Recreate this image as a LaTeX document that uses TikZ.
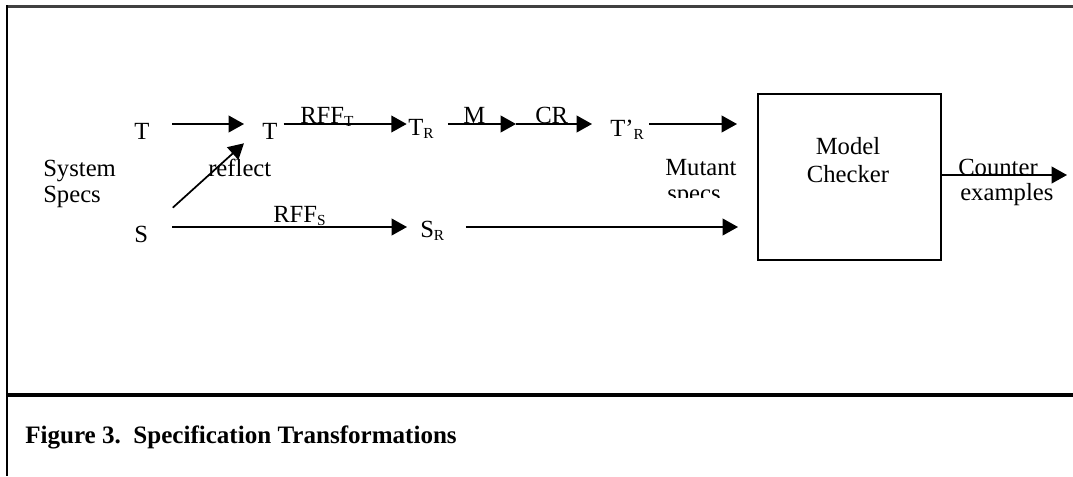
\documentclass[tikz,border=0pt]{standalone}
\usepackage{fontspec}
\setmainfont{Liberation Serif}
\usetikzlibrary{arrows.meta}

\newcommand{\lowidx}[1]{\raisebox{-0.35ex}{\fontsize{11.5}{11.5}\selectfont #1}}

\begin{document}
\begin{tikzpicture}[x=0.75pt,y=-0.75pt,
  lbl/.style={inner sep=0pt,anchor=base west,font=\fontsize{18.5}{21}\selectfont},
  arr/.style={line width=1.3pt,-{Triangle[length=11.5pt,width=12.5pt]}}]
\useasboundingbox (0,0) rectangle (1073,476);
\draw[line width=2.2pt,black!75] (6,6.5) -- (1073,6.5);
\draw[line width=2pt] (7,5) -- (7,476);
\draw[line width=3pt] (7,394.5) -- (1073,394.5);

\coordinate (toprow) at (0,124);
\coordinate (botrow) at (0,227);
\coordinate (mid) at (516,124);
\coordinate (out) at (1067,175);

\node[lbl] (tin) at (134,139) {T};
\node[lbl] (tref) at (262,139) {T};
\node[lbl] (syst) at (43,176) {System};
\node[lbl] (specs) at (43,202) {Specs};
\node[lbl] (refl) at (208,176) {reflect};
\node[lbl] (sin) at (134,242) {S};
\node[lbl] (rffs) at (273,222) {RFF\lowidx{S}};
\node[lbl] (sr) at (420,237) {S\lowidx{R}};
\node[lbl] (rfft) at (300,123) {RFF\lowidx{T}};
\node[lbl] (tr) at (408,135) {T\lowidx{R}};
\node[lbl] (mlab) at (463,123) {M};
\node[lbl] (crlab) at (535,123) {CR};
\node[lbl] (tmut) at (610,136) {T’\lowidx{R}};
\node[lbl] (mut) at (665,175) {Mutant};
\begin{scope}
\clip (650,150) rectangle (750,197);
\node[lbl] (mutspecs) at (667,201) {specs};
\end{scope}
\node[draw,line width=1.3pt,anchor=north west,minimum width=137.25pt,minimum height=124.5pt] (mc) at (757,93) {};
\node[lbl,anchor=north,align=center,font=\fontsize{18.5}{21}\selectfont] (mctext) at (848,137) {Model\\Checker};
\node[lbl] (cnt) at (958,175) {Counter};
\node[lbl] (exm) at (960,200) {examples};
\node[lbl,font=\fontsize{18.8}{21}\bfseries] (cap) at (25,443) {Figure 3.\ \ Specification Transformations};

\draw[arr,shorten <=17pt,shorten >=13.5pt] (tin.east |- toprow) -- (tref.west |- toprow);
\draw[arr] ([xshift=18.4pt,yshift=13.3pt]sin.north east) -- ([xshift=-13.5pt,yshift=-3pt]tref.south west);
\draw[arr,shorten <=4.5pt,shorten >=1pt] (tref.east |- toprow) -- (tr.west |- toprow);
\draw[arr,shorten <=10.5pt] (tr.east |- toprow) -- (mid);
\draw[arr,shorten >=13.5pt] (mid) -- (tmut.west |- toprow);
\draw[arr,shorten <=3.75pt,shorten >=15pt] (tmut.east |- toprow) -- (mc.west |- toprow);
\draw[arr,shorten <=18pt,shorten >=9.75pt] (sin.east |- botrow) -- (sr.west |- botrow);
\draw[arr,shorten <=16pt,shorten >=14.25pt] (sr.east |- botrow) -- (mc.west |- botrow);
\draw[arr] (mc.east |- out) -- (out);
\end{tikzpicture}
\end{document}
